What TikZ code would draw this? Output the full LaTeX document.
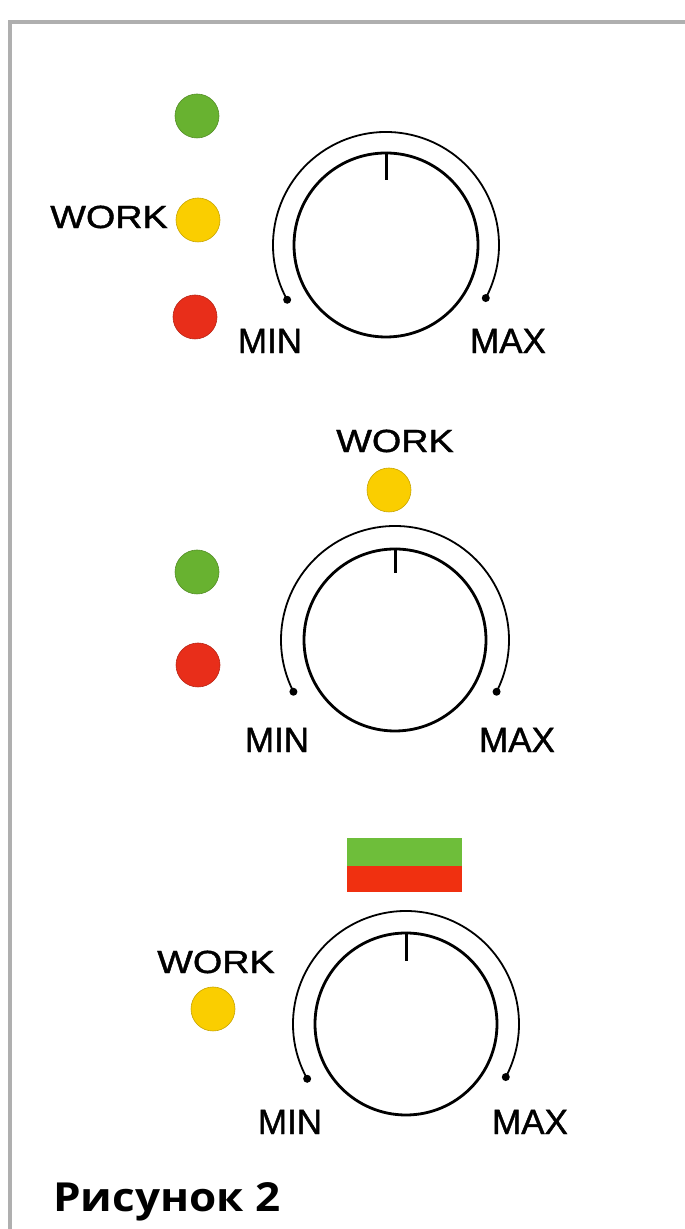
\documentclass[tikz,border=0pt]{standalone}
\usepackage{fontspec}
\setmainfont{Liberation Sans}[FakeBold=1.2]
\newfontfamily\capfont{Open Sans}
\usetikzlibrary{calc}
\definecolor{ledgreen}{RGB}{104,178,48}
\definecolor{ledyellow}{RGB}{250,206,0}
\definecolor{ledred}{RGB}{232,46,26}
\definecolor{flaggreen}{RGB}{110,190,58}
\definecolor{flagred}{RGB}{240,48,16}
\definecolor{framegray}{RGB}{175,175,175}
\tikzset{
  led/.style={circle,minimum size=44pt,inner sep=0pt,draw=#1!80!black,line width=0.6pt,fill=#1},
  worklbl/.style={inner sep=0pt,font=\fontsize{32}{32}\selectfont,xscale=1.18},
  scalelbl/.style={inner sep=0pt,font=\fontsize{35}{35}\selectfont},
  knobline/.style={line width=2.8pt,black},
  arcline/.style={line width=1.8pt,black},
  enddot/.style={circle,fill=black,inner sep=0pt,minimum size=8pt},
}
\begin{document}
\begin{tikzpicture}[x=1pt,y=1pt]
\useasboundingbox (0,0) rectangle (685,1229);
\fill[white] (0,0) rectangle (685,1229);
% frame
\draw[framegray,line width=4pt] (10,0) -- (10,1207) -- (685,1207);

% ---------- panel 1 ----------
\node[led=ledgreen]  (g1) at (197,1113) {};
\node[led=ledyellow] (y1) at (198,1009) {};
\node[led=ledred]    (r1) at (195,912) {};
\node[worklbl,anchor=east] (w1) at (168,1012) {WORK};
\coordinate (k1) at (386,984);
\node[circle,draw,knobline,minimum size=184pt,inner sep=0pt] (c1) at (k1) {};
\draw[arcline] ($(k1)+(209:113)$) coordinate (a1s) arc[start angle=209,end angle=-28,radius=113] coordinate (a1e);
\node[enddot] at (a1s) {};
\node[enddot] at (a1e) {};
\draw[line width=3pt] (c1.north) -- ++(0,-28);
\node[scalelbl] (min1) at (270,888) {MIN};
\node[scalelbl] (max1) at (508,888) {MAX};

% ---------- panel 2 ----------
\node[worklbl] (w2) at (395,788) {WORK};
\node[led=ledyellow] (y2) at (389,739) {};
\node[led=ledgreen]  (g2) at (197,657) {};
\node[led=ledred]    (r2) at (198,564) {};
\coordinate (k2) at (395,589);
\node[circle,draw,knobline,minimum size=182pt,inner sep=0pt] (c2) at (k2) {};
\draw[arcline] ($(k2)+(207:114)$) coordinate (a2s) arc[start angle=207,end angle=-27,radius=114] coordinate (a2e);
\node[enddot] at (a2s) {};
\node[enddot] at (a2e) {};
\draw[line width=3pt] (c2.north) -- ++(0,-25);
\node[scalelbl] (min2) at (277,489) {MIN};
\node[scalelbl] (max2) at (517,489) {MAX};

% ---------- panel 3 ----------
\fill[flaggreen] (347,363) rectangle (462,391);
\fill[flagred]   (347,337) rectangle (462,363);
\node[worklbl] (w3) at (216,267) {WORK};
\node[led=ledyellow] (y3) at (213,220) {};
\coordinate (k3) at (406,205);
\node[circle,draw,knobline,minimum size=182pt,inner sep=0pt] (c3) at (k3) {};
\draw[arcline] ($(k3)+(209:113)$) coordinate (a3s) arc[start angle=209,end angle=-28,radius=113] coordinate (a3e);
\node[enddot] at (a3s) {};
\node[enddot] at (a3e) {};
\draw[line width=3pt] (c3.north) -- ++(0,-29);
\node[scalelbl] (min3) at (290,107) {MIN};
\node[scalelbl] (max3) at (530,107) {MAX};

\node[anchor=base west,inner sep=0pt,font=\capfont\bfseries\fontsize{40}{40}\selectfont,xscale=1.1] (cap) at (53,17) {Рисунок 2};
\end{tikzpicture}
\end{document}
